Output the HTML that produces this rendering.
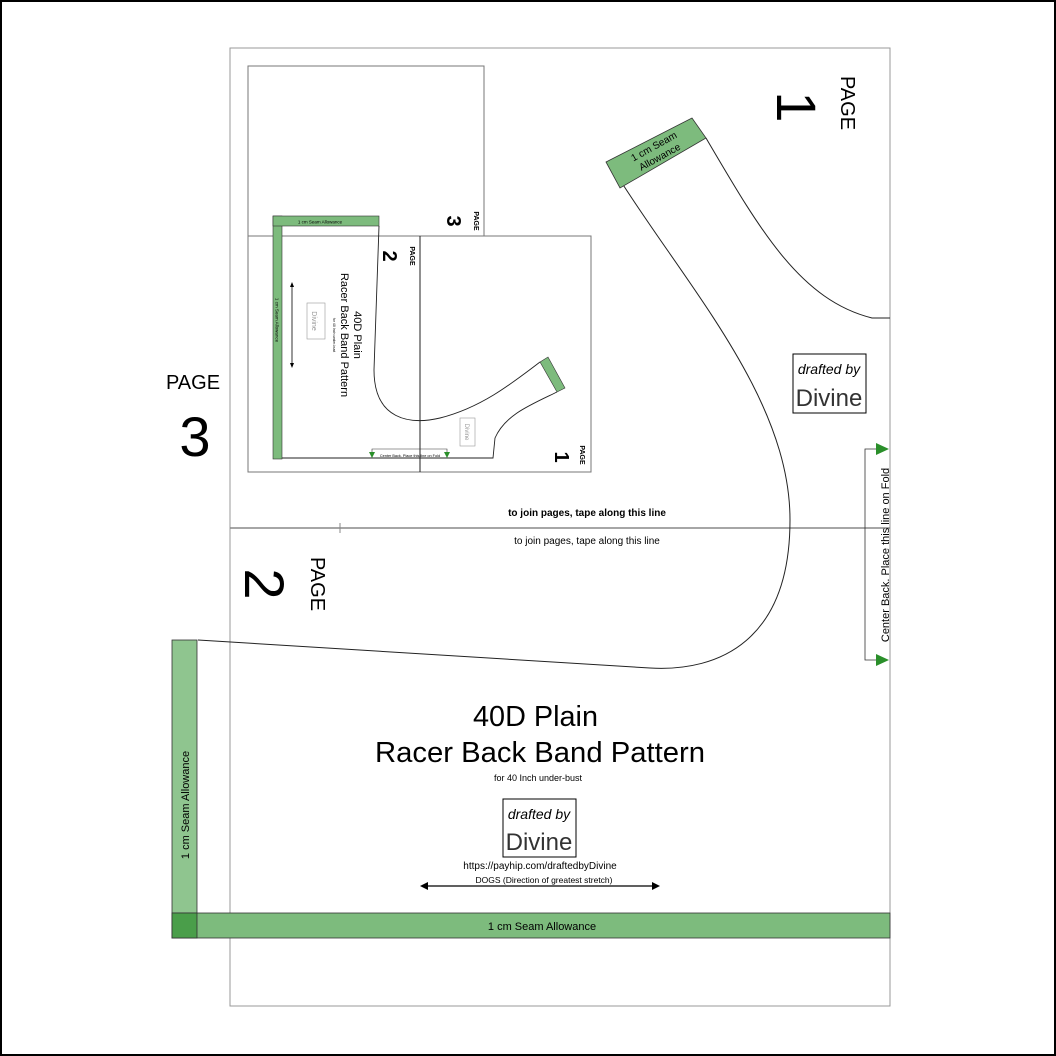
<!DOCTYPE html>
<html><head><meta charset="utf-8">
<style>
html,body{margin:0;padding:0;background:#fff;}
svg{display:block;}
text{font-family:"Liberation Sans",sans-serif;}
</style></head>
<body>
<svg width="1056" height="1056" viewBox="0 0 1056 1056" xmlns="http://www.w3.org/2000/svg">
<rect x="1" y="1" width="1054" height="1054" fill="#fff" stroke="#000" stroke-width="2"/>
<rect x="230" y="48" width="660" height="958" fill="none" stroke="#999" stroke-width="1"/>
<line x1="230" y1="528" x2="890" y2="528" stroke="#888" stroke-width="1.5"/>
<line x1="340" y1="523" x2="340" y2="533" stroke="#888"/>
<text x="587" y="516" font-size="10" font-weight="bold" text-anchor="middle">to join pages, tape along this line</text>
<text x="587" y="544" font-size="10" text-anchor="middle">to join pages, tape along this line</text>

<text x="193" y="389" font-size="20" text-anchor="middle">PAGE</text>
<text x="195" y="456" font-size="56" text-anchor="middle">3</text>
<g transform="translate(848,103) rotate(90)"><text x="0" y="7" font-size="20" text-anchor="middle">PAGE</text></g>
<g transform="translate(797,107) rotate(90)"><text x="0" y="20" font-size="56" text-anchor="middle">1</text></g>
<g transform="translate(318,584) rotate(90)"><text x="0" y="7" font-size="20" text-anchor="middle">PAGE</text></g>
<g transform="translate(265,584) rotate(90)"><text x="0" y="20" font-size="56" text-anchor="middle">2</text></g>

<path d="M620,180 C690,290 790,400 790,520 C790,640 720,672 650,668 L198,640" fill="none" stroke="#222" stroke-width="1"/>
<path d="M706,138 C760,230 800,300 872,318 L890,318" fill="none" stroke="#222" stroke-width="1"/>
<polygon points="606,162 692,118 706,138 620,188" fill="#7dbb7d" stroke="#333" stroke-width="0.8"/>
<g transform="translate(657,152) rotate(-29)"><text x="0" y="-3" font-size="10" text-anchor="middle">1 cm Seam</text><text x="0" y="9" font-size="10" text-anchor="middle">Allowance</text></g>

<rect x="172" y="640" width="25" height="298" fill="#8fc58f" stroke="#333" stroke-width="0.8"/>
<rect x="172" y="913" width="718" height="25" fill="#7dbb7d" stroke="#333" stroke-width="0.8"/>
<rect x="172" y="913" width="25" height="25" fill="#4a9e4a" stroke="#333" stroke-width="0.8"/>
<text x="542" y="930" font-size="11" text-anchor="middle">1 cm Seam Allowance</text>
<g transform="translate(185,805) rotate(-90)"><text x="0" y="4" font-size="11" text-anchor="middle">1 cm Seam Allowance</text></g>

<polyline points="876,449 865,449 865,660 876,660" fill="none" stroke="#333" stroke-width="0.8"/>
<polygon points="876,443 889,449 876,455" fill="#2a8f2a"/>
<polygon points="876,654 889,660 876,666" fill="#2a8f2a"/>
<g transform="translate(885,555) rotate(-90)"><text x="0" y="4" font-size="11" text-anchor="middle">Center Back. Place this line on Fold</text></g>

<rect x="793" y="354" width="73" height="59" fill="#fff" stroke="#000" stroke-width="1"/>
<text x="829" y="374" font-size="14" font-style="italic" font-family="Liberation Serif" text-anchor="middle">drafted by</text>
<text x="829" y="406" font-size="24" text-anchor="middle" fill="#333">Divine</text>

<text x="473" y="726" font-size="29" textLength="125" lengthAdjust="spacingAndGlyphs">40D Plain</text>
<text x="375" y="762" font-size="29" textLength="330" lengthAdjust="spacingAndGlyphs">Racer Back Band Pattern</text>
<text x="538" y="781" font-size="9" text-anchor="middle">for 40 Inch under-bust</text>
<rect x="503" y="799" width="73" height="58" fill="#fff" stroke="#000" stroke-width="1"/>
<text x="539" y="819" font-size="14" font-style="italic" font-family="Liberation Serif" text-anchor="middle">drafted by</text>
<text x="539" y="850" font-size="24" text-anchor="middle" fill="#333">Divine</text>
<text x="540" y="869" font-size="10" text-anchor="middle">https://payhip.com/draftedbyDivine</text>
<text x="544" y="883" font-size="8.5" text-anchor="middle">DOGS (Direction of greatest stretch)</text>
<line x1="424" y1="886" x2="656" y2="886" stroke="#000" stroke-width="1.2"/>
<polygon points="420,886 428,882 428,890"/>
<polygon points="660,886 652,882 652,890"/>

<rect x="248" y="66" width="236" height="170" fill="none" stroke="#777" stroke-width="1"/>
<rect x="248" y="236" width="343" height="236" fill="none" stroke="#777" stroke-width="1"/>
<line x1="420" y1="236" x2="420" y2="472" stroke="#222" stroke-width="1"/>
<g transform="translate(477,221) rotate(90)"><text x="0" y="3" font-size="7" font-weight="bold" text-anchor="middle">PAGE</text></g>
<g transform="translate(454,221) rotate(90)"><text x="0" y="7" font-size="20" font-weight="bold" text-anchor="middle">3</text></g>
<g transform="translate(413,256) rotate(90)"><text x="0" y="3" font-size="7" font-weight="bold" text-anchor="middle">PAGE</text></g>
<g transform="translate(390,256) rotate(90)"><text x="0" y="7" font-size="20" font-weight="bold" text-anchor="middle">2</text></g>
<g transform="translate(583,455) rotate(90)"><text x="0" y="3" font-size="7" font-weight="bold" text-anchor="middle">PAGE</text></g>
<g transform="translate(562,457) rotate(90)"><text x="0" y="7" font-size="20" font-weight="bold" text-anchor="middle">1</text></g>
<rect x="273" y="216" width="9" height="243" fill="#7dbb7d" stroke="#333" stroke-width="0.6"/>
<rect x="273" y="216" width="106" height="10" fill="#7dbb7d" stroke="#333" stroke-width="0.6"/>
<text x="320" y="223.5" font-size="4.5" text-anchor="middle">1 cm Seam Allowance</text>
<g transform="translate(277,320) rotate(90)"><text x="0" y="1.5" font-size="4.5" text-anchor="middle">1 cm Seam Allowance</text></g>
<path d="M379,226 L374,370 C374,420 410,425 440,418 C480,408 510,385 540,362" fill="none" stroke="#222" stroke-width="0.9"/>
<path d="M557,392 C530,405 505,415 495,438 L493,458 L282,458" fill="none" stroke="#222" stroke-width="0.9"/>
<polygon points="540,362 548,357 565,388 557,392" fill="#7dbb7d" stroke="#333" stroke-width="0.6"/>
<g transform="translate(346,335) rotate(90)">
<text x="0" y="-8" font-size="11" text-anchor="middle">40D Plain</text>
<text x="0" y="5" font-size="11" text-anchor="middle">Racer Back Band Pattern</text>
<text x="0" y="13" font-size="3.5" text-anchor="middle">for 40 Inch under-bust</text>
</g>
<rect x="307" y="303" width="18" height="36" fill="#fff" stroke="#999" stroke-width="0.6"/>
<text x="316" y="325" font-size="7" fill="#999" text-anchor="middle" transform="rotate(90 316 321)">Divine</text>
<line x1="292" y1="285" x2="292" y2="365" stroke="#000" stroke-width="0.8"/>
<polygon points="292,282 290,287 294,287"/><polygon points="292,368 290,363 294,363"/>
<rect x="460" y="418" width="15" height="28" fill="#fff" stroke="#999" stroke-width="0.6"/>
<text x="467" y="434" font-size="6" fill="#999" text-anchor="middle" transform="rotate(90 467 432)">Divine</text>
<polyline points="372,454 372,449 447,449 447,454" fill="none" stroke="#333" stroke-width="0.6"/>
<polygon points="369,452 375,452 372,458" fill="#2a8f2a"/>
<polygon points="444,452 450,452 447,458" fill="#2a8f2a"/>
<text x="410" y="457" font-size="3.8" text-anchor="middle">Center Back. Place this line on Fold</text>
</svg>
</body></html>
